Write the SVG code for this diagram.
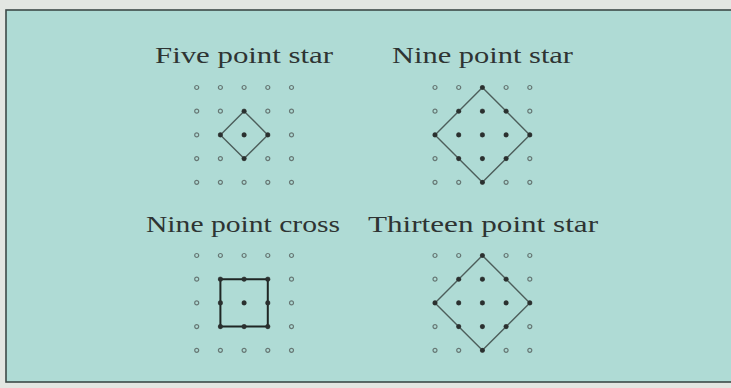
<svg xmlns="http://www.w3.org/2000/svg" width="731" height="388" viewBox="0 0 731 388">
<style>
.t{font-family:"Liberation Serif","Times New Roman",serif;font-size:24px;fill:#2e3433}
.o{fill:none;stroke:#667774;stroke-width:1.2}
.f{fill:#2a302f}
.d{fill:none;stroke:#4d5e5b;stroke-width:1.4}
.s{fill:none;stroke:#1f2624;stroke-width:2}
</style>
<defs>
<circle id="o" r="2" class="o"/>
<circle id="f" r="2.3" class="f"/>
<g id="grid">
<use href="#o" x="0" y="0"/><use href="#o" x="23.7" y="0"/><use href="#o" x="47.4" y="0"/><use href="#o" x="71.1" y="0"/><use href="#o" x="94.8" y="0"/>
<use href="#o" x="0" y="23.7"/><use href="#o" x="23.7" y="23.7"/><use href="#o" x="47.4" y="23.7"/><use href="#o" x="71.1" y="23.7"/><use href="#o" x="94.8" y="23.7"/>
<use href="#o" x="0" y="47.4"/><use href="#o" x="23.7" y="47.4"/><use href="#o" x="47.4" y="47.4"/><use href="#o" x="71.1" y="47.4"/><use href="#o" x="94.8" y="47.4"/>
<use href="#o" x="0" y="71.1"/><use href="#o" x="23.7" y="71.1"/><use href="#o" x="47.4" y="71.1"/><use href="#o" x="71.1" y="71.1"/><use href="#o" x="94.8" y="71.1"/>
<use href="#o" x="0" y="94.8"/><use href="#o" x="23.7" y="94.8"/><use href="#o" x="47.4" y="94.8"/><use href="#o" x="71.1" y="94.8"/><use href="#o" x="94.8" y="94.8"/>
</g>
</defs>
<rect x="0" y="0" width="731" height="388" fill="#e3e6e2"/>
<rect x="6" y="10" width="730" height="372" fill="#afdbd5" stroke="#3d4a48" stroke-width="1.6"/>

<g id="five-point-star">
<text class="t" x="155" y="63" textLength="178" lengthAdjust="spacingAndGlyphs">Five point star</text>
<use href="#grid" x="196.7" y="87.5"/>
<path class="d" d="M244.1 111.2 L267.8 134.9 L244.1 158.6 L220.4 134.9 Z"/>
<use href="#f" x="244.1" y="111.2"/><use href="#f" x="220.4" y="134.9"/><use href="#f" x="244.1" y="134.9"/><use href="#f" x="267.8" y="134.9"/><use href="#f" x="244.1" y="158.6"/>
</g>

<g id="nine-point-star">
<text class="t" x="392" y="63" textLength="181" lengthAdjust="spacingAndGlyphs">Nine point star</text>
<use href="#grid" x="435" y="87.5"/>
<path class="d" d="M482.4 87.5 L529.8 134.9 L482.4 182.3 L435 134.9 Z"/>
<use href="#f" x="482.4" y="87.5"/>
<use href="#f" x="458.7" y="111.2"/><use href="#f" x="482.4" y="111.2"/><use href="#f" x="506.1" y="111.2"/>
<use href="#f" x="435" y="134.9"/><use href="#f" x="458.7" y="134.9"/><use href="#f" x="482.4" y="134.9"/><use href="#f" x="506.1" y="134.9"/><use href="#f" x="529.8" y="134.9"/>
<use href="#f" x="458.7" y="158.6"/><use href="#f" x="482.4" y="158.6"/><use href="#f" x="506.1" y="158.6"/>
<use href="#f" x="482.4" y="182.3"/>
</g>

<g id="nine-point-cross">
<text class="t" x="146" y="232" textLength="194" lengthAdjust="spacingAndGlyphs">Nine point cross</text>
<use href="#grid" x="196.7" y="255.5"/>
<path class="s" d="M220.4 279.2 L267.8 279.2 L267.8 326.6 L220.4 326.6 Z"/>
<use href="#f" x="220.4" y="279.2"/><use href="#f" x="244.1" y="279.2"/><use href="#f" x="267.8" y="279.2"/>
<use href="#f" x="220.4" y="302.9"/><use href="#f" x="244.1" y="302.9"/><use href="#f" x="267.8" y="302.9"/>
<use href="#f" x="220.4" y="326.6"/><use href="#f" x="244.1" y="326.6"/><use href="#f" x="267.8" y="326.6"/>
</g>

<g id="thirteen-point-star">
<text class="t" x="368" y="232" textLength="230" lengthAdjust="spacingAndGlyphs">Thirteen point star</text>
<use href="#grid" x="435" y="255.5"/>
<path class="d" d="M482.4 255.5 L529.8 302.9 L482.4 350.3 L435 302.9 Z"/>
<use href="#f" x="482.4" y="255.5"/>
<use href="#f" x="458.7" y="279.2"/><use href="#f" x="482.4" y="279.2"/><use href="#f" x="506.1" y="279.2"/>
<use href="#f" x="435" y="302.9"/><use href="#f" x="458.7" y="302.9"/><use href="#f" x="482.4" y="302.9"/><use href="#f" x="506.1" y="302.9"/><use href="#f" x="529.8" y="302.9"/>
<use href="#f" x="458.7" y="326.6"/><use href="#f" x="482.4" y="326.6"/><use href="#f" x="506.1" y="326.6"/>
<use href="#f" x="482.4" y="350.3"/>
</g>
<g id="connectors"/>
</svg>
